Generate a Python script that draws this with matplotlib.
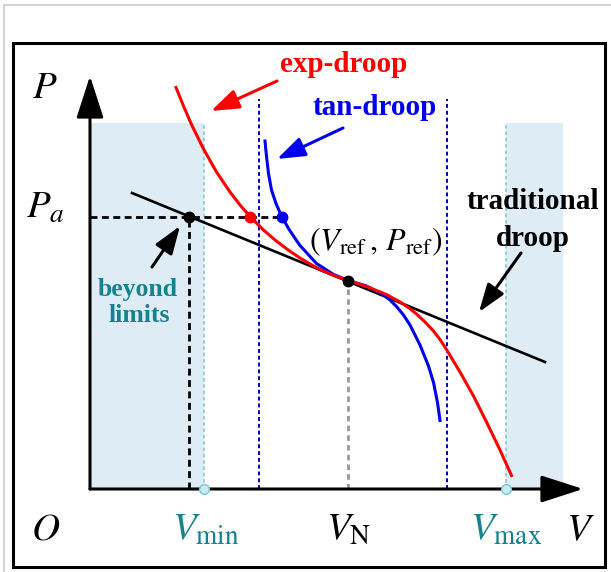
import matplotlib
matplotlib.use("Agg")
import matplotlib.pyplot as plt
from matplotlib.patches import Rectangle
from matplotlib.lines import Line2D

plt.rcParams["mathtext.fontset"] = "stix"
plt.rcParams["font.family"] = ["Liberation Serif", "DejaVu Serif"]

# schematic values (V along x, P along y)
v_min, v_n, v_max = 2.28, 5.16, 8.32
v_tan_lo, v_tan_hi = 3.38, 7.14
p_a, p_ref = 5.44, 4.16
v_beyond, v_exp_a, v_tan_a = 1.98, 3.20, 3.84
shade_top, shade_right, tan_top = 7.32, 9.46, 7.80
x_end, y_end = 9.86, 8.26

trad_v = [0.84, 9.10]
trad_p = [5.92, 2.54]

exp_v = [1.72, 1.87, 2.03, 2.27, 2.53, 2.80, 3.00, 3.20, 3.47, 3.70, 3.95, 4.20, 4.40,
         4.60, 4.88, 5.17, 5.53, 5.93, 6.20, 6.37, 6.53, 6.70, 6.87, 7.00, 7.13,
         7.40, 7.67, 7.93, 8.20, 8.43]
exp_p = [8.03, 7.66, 7.29, 6.80, 6.34, 5.94, 5.68, 5.45, 5.18, 4.98, 4.79, 4.62, 4.50,
         4.39, 4.27, 4.17, 4.05, 3.89, 3.74, 3.63, 3.50, 3.34, 3.16, 2.99, 2.79,
         2.34, 1.86, 1.34, 0.78, 0.27]

tan_v = [3.50, 3.53, 3.57, 3.63, 3.72, 3.83, 3.97, 4.13, 4.20, 4.53, 4.87, 5.17,
         5.53, 5.87, 6.00, 6.13, 6.27, 6.40, 6.60, 6.77, 6.87, 6.95, 7.00]
tan_p = [6.96, 6.65, 6.31, 5.98, 5.71, 5.46, 5.21, 4.97, 4.87, 4.51, 4.29, 4.17,
         4.06, 3.88, 3.78, 3.65, 3.48, 3.28, 2.88, 2.46, 2.13, 1.73, 1.37]

RED = "#ff0000"
BLUE = "#0000ee"
TEAL = "#16828f"
SHADE = "#deedf5"
CYAN = "#8ccfd8"

fig = plt.figure(figsize=(6.11, 5.72), dpi=100)
ax = fig.add_axes([0, 0, 1, 1])
ax.set_xlim(-1.8, 10.42)
ax.set_ylim(-1.66, 9.78)
ax.axis("off")

# outer frames
fig.add_artist(Line2D([0.0065, 1.0], [0.9913, 0.9913], color="#cccccc", lw=1.2))
fig.add_artist(Line2D([0.0065, 0.0065], [0.0, 0.9913], color="#cccccc", lw=1.2))
fig.add_artist(Rectangle((0.0208, 0.0079), 0.969, 0.917, transform=fig.transFigure,
                         fill=False, ec="black", lw=2.2))

# limit zones
ax.add_patch(Rectangle((0, 0), v_min, shade_top, color=SHADE, lw=0, zorder=0))
ax.add_patch(Rectangle((v_max, 0), shade_right - v_max, shade_top, color=SHADE, lw=0, zorder=0))
for v in (v_min, v_max):
    ax.plot([v, v], [0, shade_top], color=CYAN, lw=1.3, ls=(0, (2, 1.5)), zorder=1)
for v in (v_tan_lo, v_tan_hi):
    ax.plot([v, v], [0, tan_top], color="#0000b0", lw=1.4, ls=(0, (2, 1.5)), zorder=1)
ax.plot([v_n, v_n], [0, p_ref], color="#999999", lw=2, ls=(0, (2, 1.5)), zorder=1)

# P_a guides
ax.plot([0, v_tan_a], [p_a, p_a], color="black", lw=2, ls=(0, (2.5, 1.6)), zorder=2)
ax.plot([v_beyond, v_beyond], [0, p_a], color="black", lw=2, ls=(0, (2.5, 1.6)), zorder=2)

# curves
ax.plot(trad_v, trad_p, color="black", lw=1.9, zorder=3)
ax.plot(tan_v, tan_p, color=BLUE, lw=2.2, zorder=4, solid_joinstyle="round")
ax.plot(exp_v, exp_p, color=RED, lw=2.2, zorder=5, solid_joinstyle="round")

ax.plot([v_beyond, v_n], [p_a, p_ref], "o", color="black", ms=7.5, ls="none", zorder=6)
ax.plot(v_exp_a, p_a, "o", color=RED, ms=7.5, zorder=6)
ax.plot(v_tan_a, p_a, "o", color=BLUE, ms=7.5, zorder=6)
ax.plot([v_min, v_max], [0, 0], "o", mfc="#c6ebf0", mec="#7cc6d0", ms=7, mew=1, ls="none",
        zorder=8, clip_on=False)

# axes with arrows
axis_arrow = dict(arrowstyle="-|>,head_length=1.3,head_width=0.42", mutation_scale=20,
                  lw=2.2, color="black", shrinkA=0, shrinkB=0)
ax.annotate("", xy=(x_end, 0), xytext=(0, 0), arrowprops=axis_arrow, zorder=7)
ax.annotate("", xy=(0, y_end), xytext=(0, 0), arrowprops=axis_arrow, zorder=7)

# callouts
def callout(text_xy, tip_xy, color):
    ax.annotate("", xy=tip_xy, xytext=text_xy,
                arrowprops=dict(arrowstyle="-|>,head_length=0.85,head_width=0.3",
                                mutation_scale=20, lw=2.2, color=color,
                                shrinkA=0, shrinkB=0), zorder=9)

callout((3.74, 8.16), (2.42, 7.56), RED)
callout((5.06, 7.22), (3.74, 6.60), BLUE)
callout((8.62, 4.72), (7.78, 3.54), "black")
callout((1.24, 4.44), (1.80, 5.26), "black")

bold = dict(fontsize=21, fontweight="bold", ha="center", va="baseline")
ax.text(5.08, 8.33, "exp-droop", color=RED, **bold)
ax.text(5.70, 7.47, "tan-droop", color=BLUE, **bold)
ax.text(8.86, 5.60, "traditional", color="black", **bold)
ax.text(8.86, 4.86, "droop", color="black", **bold)
ax.text(0.96, 3.86, "beyond", color=TEAL, **dict(bold, fontsize=18.5))
ax.text(0.98, 3.34, "limits", color=TEAL, **dict(bold, fontsize=18.5))

math = dict(fontsize=28, ha="center", va="baseline")
ax.text(-0.9, 7.82, r"$P$", **math)
ax.text(-0.9, 5.42, r"$P_a$", **math)
ax.text(-0.88, -1.02, r"$O$", **math)
ax.text(2.32, -1.02, r"$V_{\mathrm{min}}$", color=TEAL, **math)
ax.text(5.18, -1.02, r"$V_{\mathrm{N}}$", **math)
ax.text(8.32, -1.02, r"$V_{\mathrm{max}}$", color=TEAL, **math)
ax.text(9.80, -1.02, r"$V$", **math)
ax.text(5.72, 4.78, r"$(V_{\mathrm{ref}}\,,\,P_{\mathrm{ref}})$", fontsize=23,
        ha="center", va="baseline")

fig.savefig("out.png", dpi=100)
